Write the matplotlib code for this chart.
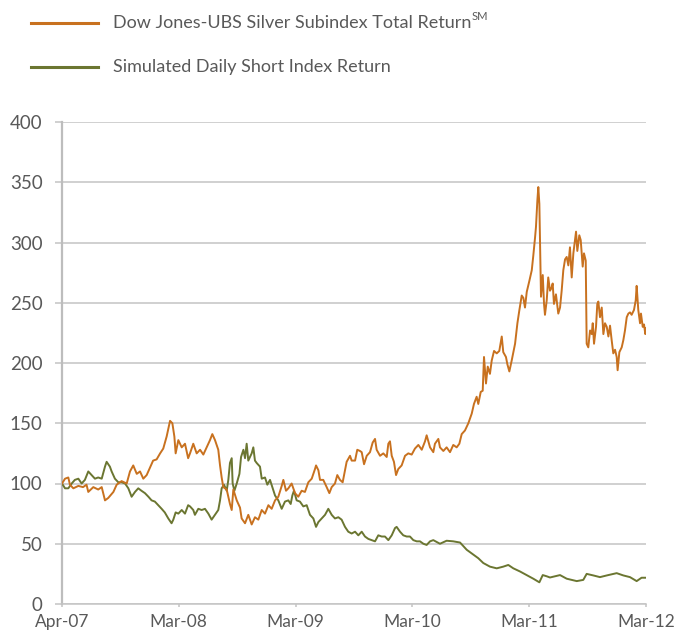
import matplotlib.pyplot as plt
from matplotlib.lines import Line2D

# time in years since Apr-07 (tick labels are evenly spaced)
tick_pos = [0, 1, 2, 3, 4, 5]
tick_labels = ['Apr-07', 'Mar-08', 'Mar-09', 'Mar-10', 'Mar-11', 'Mar-12']

silver_t = [0.0, .026, .054, .068, .097, .14, .18, .21, .225, .268, .31, .34, .368, .396, .44, .468,
            .51, .554, .582, .61, .64, .668, .696, .725, .753, .78, .81, .84, .867, .896, .925, .945,
            .962, .973, .996, 1.025, 1.053, 1.08, 1.096, 1.124, 1.153, 1.182, 1.21, 1.239, 1.267,
            1.287, 1.31, 1.338, 1.353, 1.367, 1.381, 1.41, 1.438, 1.453, 1.467, 1.496, 1.524, 1.538,
            1.567, 1.595, 1.624, 1.652, 1.681, 1.71, 1.738, 1.767, 1.795, 1.824, 1.852, 1.881, 1.895,
            1.918, 1.938, 1.966, 1.995, 2.023, 2.052, 2.08, 2.109, 2.138, 2.166, 2.175, 2.195, 2.209,
            2.237, 2.266, 2.289, 2.309, 2.337, 2.357, 2.38, 2.403, 2.423, 2.437, 2.466, 2.48, 2.509,
            2.528, 2.551, 2.566, 2.586, 2.609, 2.637, 2.66, 2.68, 2.694, 2.723, 2.751, 2.78, 2.794,
            2.808, 2.823, 2.842, 2.86, 2.879, 2.908, 2.937, 2.965, 2.994, 3.022, 3.051, 3.08, 3.108,
            3.122, 3.151, 3.179, 3.193, 3.222, 3.236, 3.265, 3.293, 3.322, 3.35, 3.379, 3.402, 3.422,
            3.45, 3.479, 3.508, 3.527, 3.55, 3.564, 3.585, 3.602, 3.613, 3.63, 3.645, 3.664, 3.679,
            3.699, 3.722, 3.744, 3.765, 3.778, 3.801, 3.813, 3.83, 3.85, 3.879, 3.899, 3.916, 3.936,
            3.95, 3.964, 3.979, 4.001, 4.022, 4.035, 4.05, 4.058, 4.07, 4.078, 4.087, 4.092, 4.098,
            4.101, 4.116, 4.127, 4.135, 4.15, 4.163, 4.178, 4.19, 4.201, 4.212, 4.229, 4.249, 4.264,
            4.278, 4.292, 4.307, 4.321, 4.335, 4.349, 4.364, 4.378, 4.401, 4.412, 4.429, 4.441, 4.458,
            4.469, 4.484, 4.492, 4.506, 4.521, 4.535, 4.544, 4.555, 4.572, 4.583, 4.592, 4.606, 4.621,
            4.635, 4.649, 4.664, 4.678, 4.692, 4.706, 4.72, 4.735, 4.749, 4.757, 4.772, 4.792, 4.806,
            4.82, 4.835, 4.849, 4.863, 4.877, 4.897, 4.912, 4.92, 4.934, 4.949, 4.957, 4.972, 4.983,
            4.994, 5.0]
silver = [100, 104, 105, 99, 96, 98, 97, 99, 93, 97, 95, 97, 86, 88, 93, 99,
          102, 100, 110, 115, 108, 110, 104, 107, 113, 119, 120, 125, 129, 139, 152, 150,
          139, 125, 136, 130, 133, 121, 125, 133, 125, 128, 124, 130, 136,
          141, 136, 128, 115, 105, 97, 95, 83, 78, 95, 86, 80, 71,
          67, 74, 66, 72, 70, 78, 75, 82, 79, 86, 89, 98, 103,
          94, 96, 100, 92, 89, 94, 93, 101, 104, 112, 115, 111, 103,
          103, 97, 92, 97, 100, 107, 103, 101, 111, 118, 123, 119, 119,
          128, 127, 126, 116, 123, 126, 134, 137, 128, 123, 125, 122, 133,
          135, 123, 118, 107, 112, 115, 123, 125, 124, 129, 132, 128, 135,
          140, 130, 126, 133, 137, 130, 127, 130, 126, 132, 130, 133, 141,
          144, 150, 158, 166, 172, 166, 176, 177, 205, 183, 197, 191, 202,
          210, 208, 210, 222, 209, 205, 199, 193, 202, 216, 233, 244, 256,
          254, 246, 259, 268, 277, 289, 304, 313, 335, 346, 332, 304, 274,
          255, 273, 249, 240, 252, 271, 260, 262, 266, 249, 257, 241, 246,
          260, 277, 286, 288, 281, 296, 271, 291, 309, 293, 306, 302, 280,
          291, 285, 216, 213, 227, 224, 233, 216, 230, 249, 251, 238, 246,
          224, 233, 230, 222, 231, 219, 208, 211, 205, 194, 209, 213, 219,
          227, 238, 241, 242, 240, 244, 252, 264, 244, 233, 241, 230, 232,
          224, 229]

short_t = [0.0, .026, .054, .083, .11, .14, .168, .196, .225, .254, .282, .31, .34, .368, .382, .41,
           .425, .453, .482, .51, .54, .568, .596, .625, .653, .68, .71, .74, .767, .795, .824, .853,
           .88, .91, .938, .953, .973, .996, 1.025, 1.053, 1.08, 1.096, 1.124, 1.138, 1.167, 1.196,
           1.224, 1.253, 1.281, 1.31, 1.338, 1.353, 1.367, 1.387, 1.41, 1.424, 1.438, 1.453, 1.461,
           1.476, 1.496, 1.519, 1.533, 1.553, 1.567, 1.581, 1.595, 1.61, 1.624, 1.638, 1.652, 1.667,
           1.695, 1.71, 1.738, 1.758, 1.781, 1.804, 1.824, 1.852, 1.881, 1.909, 1.938, 1.958, 1.972,
           1.986, 2.009, 2.037, 2.066, 2.095, 2.123, 2.152, 2.175, 2.195, 2.223, 2.252, 2.28, 2.309,
           2.337, 2.366, 2.394, 2.423, 2.451, 2.48, 2.509, 2.537, 2.566, 2.594, 2.623, 2.651, 2.68,
           2.708, 2.737, 2.765, 2.794, 2.823, 2.851, 2.865, 2.894, 2.922, 2.951, 2.979, 3.008, 3.037,
           3.065, 3.094, 3.122, 3.151, 3.179, 3.236, 3.293, 3.35, 3.408, 3.465, 3.522, 3.564, 3.607,
           3.664, 3.722, 3.778, 3.821, 3.864, 3.921, 3.979, 4.035, 4.087, 4.116, 4.15, 4.178, 4.264,
           4.321, 4.407, 4.463, 4.492, 4.549, 4.606, 4.664, 4.749, 4.806, 4.863, 4.92, 4.962, 5.0]
short = [100, 96, 96, 100, 103, 104, 100, 103, 110, 107, 104, 105, 104, 114, 118, 114,
         110, 104, 101, 101, 100, 96, 89, 93, 96, 94, 92, 89, 86, 85, 82, 79,
         76, 71, 67, 70, 76, 75, 78, 75, 82, 81, 78, 74, 79, 78,
         79, 75, 70, 74, 78, 86, 96, 99, 94, 103, 117, 121, 100,
         94, 100, 108, 122, 128, 121, 133, 119, 122, 125, 130, 119, 117,
         114, 104, 105, 99, 103, 96, 90, 86, 79, 85, 86, 83, 90,
         94, 86, 85, 81, 82, 74, 71, 64, 68, 71, 74, 79, 74,
         71, 72, 70, 64, 60, 58.5, 60, 57, 60, 56, 54, 53, 52,
         57, 56, 56, 53, 57, 63, 64, 60, 57, 56, 56, 53, 52,
         52, 50, 49, 52, 53, 50, 52.5, 52, 51, 45, 41, 38, 34,
         31, 29.6, 31, 32.4, 29.6, 27, 24, 21, 18, 24, 23, 22, 24,
         21, 19, 20, 25, 23.7, 22.3, 23.7, 25.6, 23.7, 22.3, 19, 21.8, 21.8]

orange = '#C8711F'
olive = '#6B7631'
text_col = '#595959'
grid_col = '#C4C4C4'

plt.rcParams['font.family'] = ['Lato', 'DejaVu Sans']

fig = plt.figure(figsize=(6.78, 6.35), dpi=100)
ax = fig.add_axes([62 / 678, 31 / 635, 584 / 678, 482 / 635])

ax.plot(short_t, short, color=olive, linewidth=1.4, zorder=3)
ax.plot(silver_t, silver, color=orange, linewidth=1.4, zorder=4)

ax.set_xlim(0, 5)
ax.set_ylim(0, 400)
ax.set_yticks(range(0, 401, 50))
ax.set_xticks(tick_pos)
ax.set_xticklabels(tick_labels)
ax.yaxis.grid(True, color=grid_col, linewidth=1.1)
ax.set_axisbelow(True)

for s in ['top', 'right']:
    ax.spines[s].set_visible(False)
ax.spines['left'].set_color('#BDBDBD')
ax.spines['left'].set_linewidth(1.6)
ax.spines['bottom'].set_color(grid_col)
ax.spines['bottom'].set_linewidth(1.1)

ax.tick_params(axis='y', colors=grid_col, labelcolor=text_col, labelsize=13.5,
               length=5, width=1.1, pad=9)
ax.tick_params(axis='x', colors=grid_col, labelcolor=text_col, labelsize=12.5,
               length=2.5, width=1.1, pad=5)

# legend drawn by hand at the top
legend_items = [('Dow Jones-UBS Silver Subindex Total Return', orange, 23),
                ('Simulated Daily Short Index Return', olive, 67)]
fig.canvas.draw()
renderer = fig.canvas.get_renderer()
for label, col, ypx in legend_items:
    yf = 1 - ypx / 635
    fig.add_artist(Line2D([31 / 678, 98 / 678], [yf, yf], color=col, linewidth=2.2))
    txt = fig.text(113 / 678, yf, label, color=text_col, fontsize=13, va='center')
    if label.startswith('Dow'):
        bb = txt.get_window_extent(renderer)
        fig.text(bb.x1 / 678 + 0.001, yf + 0.01, 'SM', color=text_col, fontsize=8, va='center')

fig.savefig('out.png', dpi=100)
